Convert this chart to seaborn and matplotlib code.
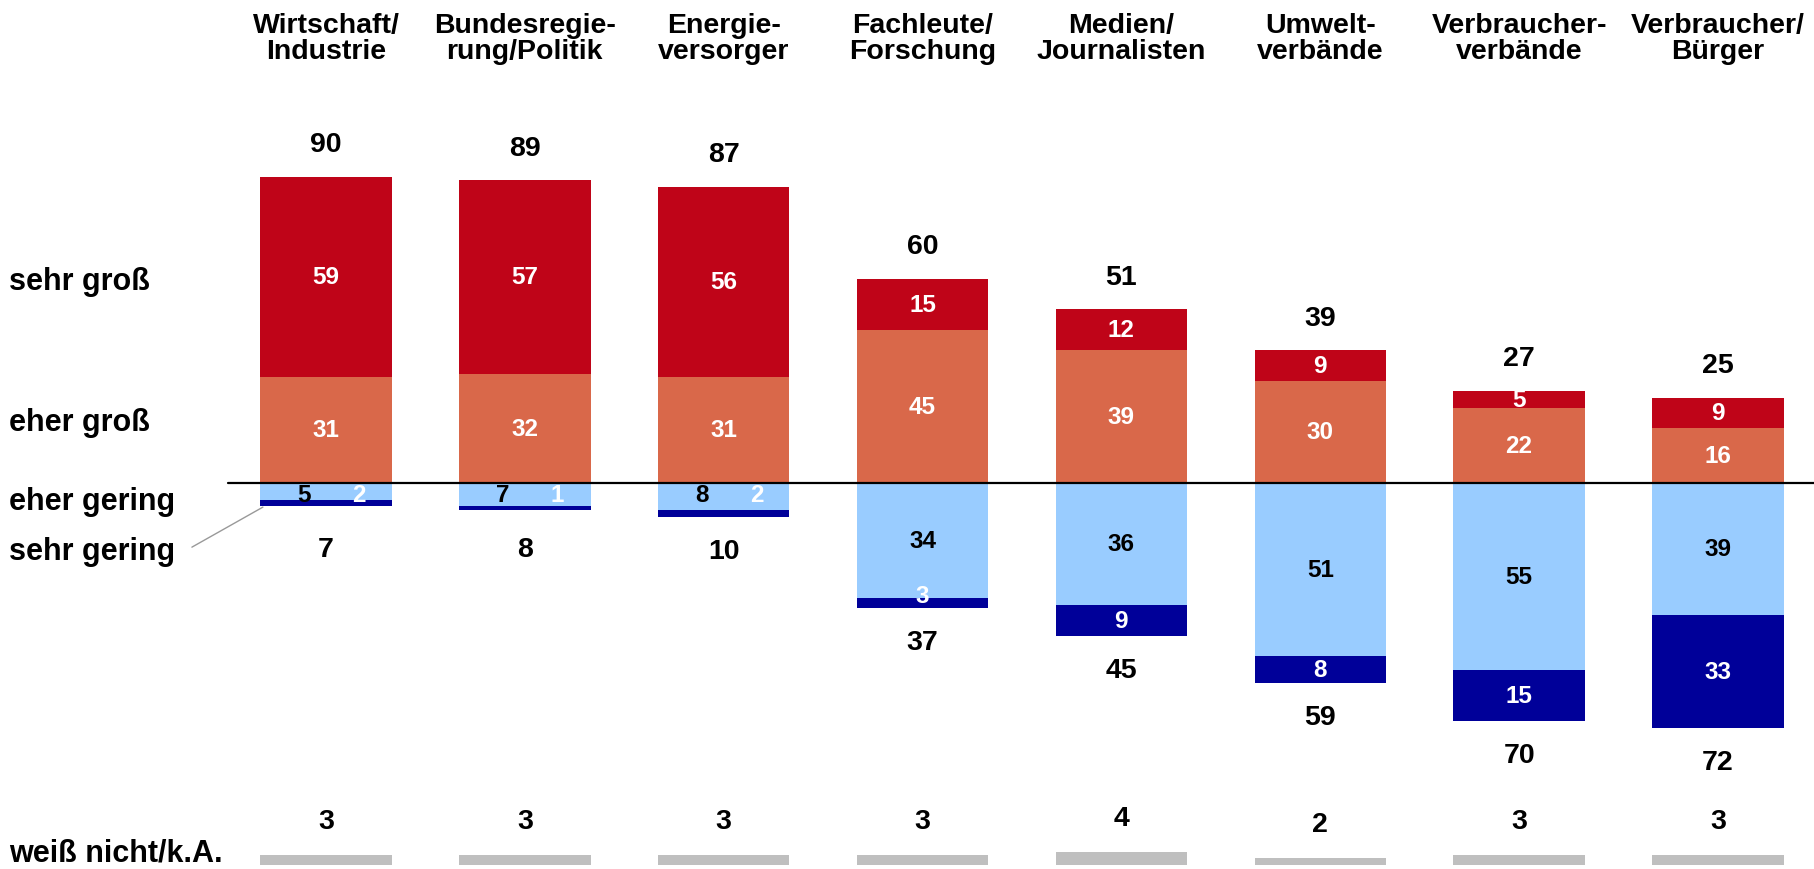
"""Vertrauen in Akteure: gestapelte Balken nach oben/unten."""

import matplotlib
matplotlib.use("Agg")
import matplotlib.pyplot as plt
import seaborn as sns

categories = [
    "Wirtschaft/\nIndustrie",
    "Bundesregie-\nrung/Politik",
    "Energie-\nversorger",
    "Fachleute/\nForschung",
    "Medien/\nJournalisten",
    "Umwelt-\nverbände",
    "Verbraucher-\nverbände",
    "Verbraucher/\nBürger",
]
sehr_gross = [59, 57, 56, 15, 12, 9, 5, 9]
eher_gross = [31, 32, 31, 45, 39, 30, 22, 16]
eher_gering = [5, 7, 8, 34, 36, 51, 55, 39]
sehr_gering = [2, 1, 2, 3, 9, 8, 15, 33]
total_gross = [90, 89, 87, 60, 51, 39, 27, 25]
total_gering = [7, 8, 10, 37, 45, 59, 70, 72]
weiss_nicht = [3, 3, 3, 3, 4, 2, 3, 3]
row_labels = ["sehr groß", "eher groß", "eher gering", "sehr gering", "weiß nicht/k.A."]

C_SEHR_GROSS = "#BF0418"
C_EHER_GROSS = "#D9684A"
C_EHER_GERING = "#99CCFF"
C_SEHR_GERING = "#000099"
C_GRAY = "#BFBFBF"

sns.set_theme(style="white")
plt.rcParams["font.family"] = ["Liberation Sans", "DejaVu Sans"]
plt.rcParams["font.weight"] = "bold"
plt.rcParams["text.color"] = "black"

fig = plt.figure(figsize=(18.14, 8.70), dpi=100)
ax = fig.add_axes([0, 0, 1, 1])

W = 0.661
GRAY_BASE = -112.5

pos_total = [a + b for a, b in zip(sehr_gross, eher_gross)]
neg_total = [-(a + b) for a, b in zip(eher_gering, sehr_gering)]
neg_eg = [-v for v in eher_gering]

common = dict(x=categories, order=categories, width=W, saturation=1, linewidth=0, ax=ax)
sns.barplot(y=pos_total, color=C_SEHR_GROSS, **common)
sns.barplot(y=eher_gross, color=C_EHER_GROSS, **common)
sns.barplot(y=neg_total, color=C_SEHR_GERING, **common)
sns.barplot(y=neg_eg, color=C_EHER_GERING, **common)
sns.barplot(y=weiss_nicht, color=C_GRAY, bottom=GRAY_BASE, **common)

ax.set_xlim(-1.639, 7.483)
ax.set_ylim(-113.6, 142.2)
ax.axis("off")

# Nulllinie
ax.plot([-0.493, 7.6], [0, 0], color="black", lw=1.6, zorder=5)

IN_FS = 17.5
TOT_FS = 20.5
for i in range(len(categories)):
    ax.text(i, 138.4, categories[i], ha="center", va="top",
            fontsize=20.5, fontweight="bold", linespacing=1.0)
    # Segmente oben
    ax.text(i, eher_gross[i] / 2, str(eher_gross[i]), ha="center", va="center",
            color="white", fontsize=IN_FS, fontweight="bold")
    ax.text(i, eher_gross[i] + sehr_gross[i] / 2, str(sehr_gross[i]), ha="center",
            va="center", color="white", fontsize=IN_FS, fontweight="bold")
    ax.text(i, total_gross[i] + 9.5, str(total_gross[i]), ha="center", va="center",
            fontsize=TOT_FS, fontweight="bold")
    # Segmente unten
    if eher_gering[i] < 10:
        ax.text(i - 0.11, -3.4, str(eher_gering[i]), ha="center", va="center",
                color="black", fontsize=IN_FS, fontweight="bold")
        ax.text(i + 0.165, -3.4, str(sehr_gering[i]), ha="center", va="center",
                color="white", fontsize=IN_FS, fontweight="bold")
    else:
        ax.text(i, -eher_gering[i] / 2, str(eher_gering[i]), ha="center", va="center",
                color="black", fontsize=IN_FS, fontweight="bold")
        sg_y = -eher_gering[i] - sehr_gering[i] / 2
        if sehr_gering[i] < 5:
            sg_y += 2.3
        ax.text(i, sg_y, str(sehr_gering[i]), ha="center", va="center",
                color="white", fontsize=IN_FS, fontweight="bold")
    ax.text(i, min(-total_gering[i] - 10, -19.5), str(total_gering[i]), ha="center",
            va="center", fontsize=TOT_FS, fontweight="bold")
    # weiß nicht
    ax.text(i, GRAY_BASE + weiss_nicht[i] + 10, str(weiss_nicht[i]), ha="center",
            va="center", fontsize=TOT_FS, fontweight="bold")

# Zeilenbeschriftungen links
row_y = [57.0, 15.6, -7.8, -22.5, -111.0]
for lab, y in zip(row_labels, row_y):
    ax.text(-1.594, y, lab, ha="left", va="baseline", fontsize=22, fontweight="bold")

# Hinweislinie zu "sehr gering"
ax.plot([-0.674, -0.317], [-18.97, -7.2], color="#999999", lw=1)

fig.savefig("out.png", dpi=100)
